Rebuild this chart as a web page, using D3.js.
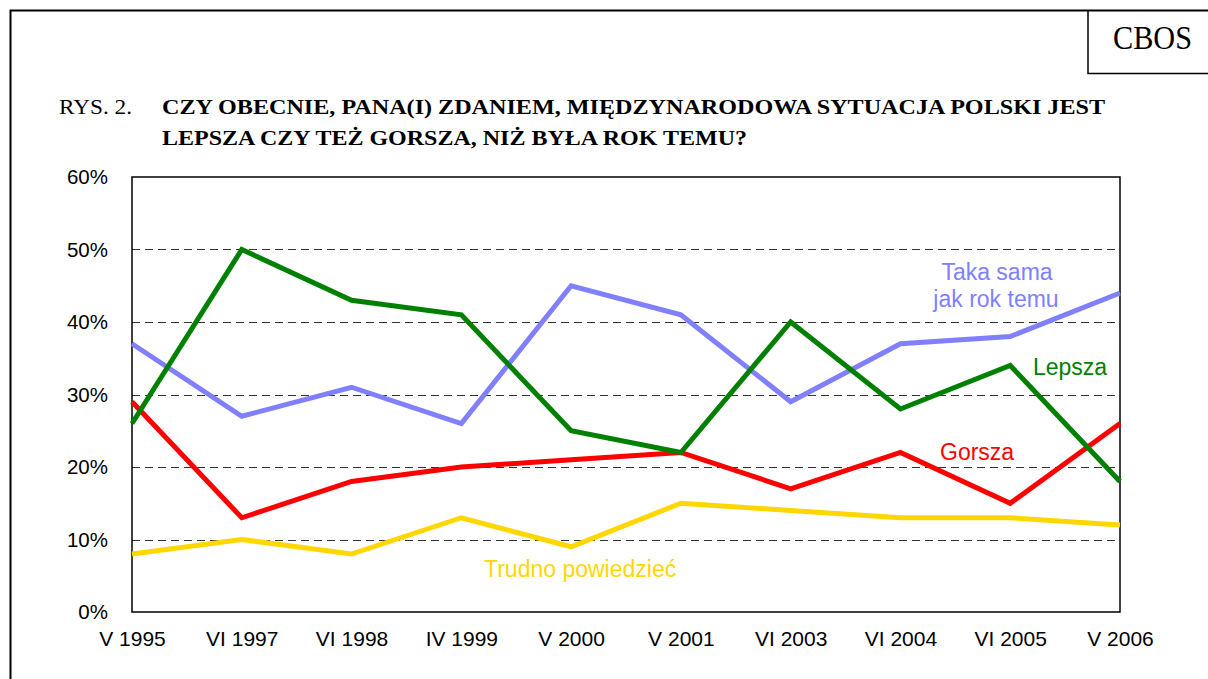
<!DOCTYPE html>
<html>
<head>
<meta charset="utf-8">
<script src="https://cdn.jsdelivr.net/npm/d3@7"></script>
<style>
  body { margin: 0; background: #fff; }
  svg { display: block; }
</style>
</head>
<body>
<script>
const categories = ["V 1995", "VI 1997", "VI 1998", "IV 1999", "V 2000", "V 2001", "VI 2003", "VI 2004", "VI 2005", "V 2006"]
const takaSama = [37, 27, 31, 26, 45, 41, 29, 37, 38, 44]
const lepsza   = [26, 50, 43, 41, 25, 22, 40, 28, 34, 18]
const gorsza   = [29, 13, 18, 20, 21, 22, 17, 22, 15, 26]
const trudno   = [8, 10, 8, 13, 9, 15, 14, 13, 13, 12]
const yTicks   = [0, 10, 20, 30, 40, 50, 60]

const width = 1208, height = 679
const plotLeft = 132, plotRight = 1120, plotTop = 177, plotBottom = 612

const svg = d3.select("body").append("svg")
    .attr("width", width)
    .attr("height", height)

// outer frame and CBOS box
svg.append("path")
    .attr("d", `M10.5,${height} V10.5 H${width}`)
    .attr("fill", "none")
    .attr("stroke", "black")
    .attr("stroke-width", 2)
svg.append("path")
    .attr("d", `M1088,10.5 V73.5 H${width}`)
    .attr("fill", "none")
    .attr("stroke", "black")
    .attr("stroke-width", 1.5)
svg.append("text")
    .attr("x", 1113)
    .attr("y", 49)
    .attr("textLength", 79)
    .attr("lengthAdjust", "spacingAndGlyphs")
    .style("font-family", "'Liberation Serif', 'Times New Roman', serif")
    .style("font-size", "33px")
    .text("CBOS")

// title
const title = svg.append("g")
    .style("font-family", "'Liberation Serif', 'Times New Roman', serif")
    .style("font-size", "21px")
title.append("text").attr("x", 59).attr("y", 114)
    .attr("textLength", 73).attr("lengthAdjust", "spacingAndGlyphs")
    .text("RYS. 2.")
title.append("text").attr("x", 162).attr("y", 114).style("font-weight", "bold")
    .attr("textLength", 943).attr("lengthAdjust", "spacingAndGlyphs")
    .text("CZY OBECNIE, PANA(I) ZDANIEM, MIĘDZYNARODOWA SYTUACJA POLSKI JEST")
title.append("text").attr("x", 162).attr("y", 145).style("font-weight", "bold")
    .attr("textLength", 585).attr("lengthAdjust", "spacingAndGlyphs")
    .text("LEPSZA CZY TEŻ GORSZA, NIŻ BYŁA ROK TEMU?")

const x = d3.scalePoint()
    .domain(categories)
    .range([plotLeft, plotRight])
    .padding(0)

const y = d3.scaleLinear()
    .domain([0, 60])
    .range([plotBottom, plotTop])

// gridlines
svg.append("g")
    .selectAll("line")
    .data(yTicks.filter(d => d > 0 && d < 60))
    .enter()
    .append("line")
        .attr("x1", plotLeft)
        .attr("x2", plotRight)
        .attr("y1", d => Math.round(y(d)) + 0.5)
        .attr("y2", d => Math.round(y(d)) + 0.5)
        .attr("stroke", "#333")
        .attr("stroke-width", 1)
        .attr("stroke-dasharray", "8,5")

// plot frame
svg.append("rect")
    .attr("x", plotLeft)
    .attr("y", plotTop)
    .attr("width", plotRight - plotLeft)
    .attr("height", plotBottom - plotTop)
    .attr("fill", "none")
    .attr("stroke", "black")
    .attr("stroke-width", 1.5)

// axes
const yAxis = svg.append("g")
    .attr("transform", `translate(${plotLeft},0)`)
    .call(d3.axisLeft(y).tickValues(yTicks).tickFormat(d => d + "%").tickSize(0).tickPadding(24))
yAxis.select(".domain").remove()
yAxis.selectAll("text")
    .style("font-family", "'Liberation Sans', Arial, sans-serif")
    .style("font-size", "20.5px")
    .attr("fill", "black")

const xAxis = svg.append("g")
    .attr("transform", `translate(0,${plotBottom})`)
    .call(d3.axisBottom(x).tickSize(0).tickPadding(19))
xAxis.select(".domain").remove()
xAxis.selectAll("text")
    .style("font-family", "'Liberation Sans', Arial, sans-serif")
    .style("font-size", "21px")
    .attr("fill", "black")

const series = [
    { values: trudno,   color: "#FFD700" },
    { values: gorsza,   color: "#FF0000" },
    { values: takaSama, color: "#8080FF" },
    { values: lepsza,   color: "#008000" }
]

const line = d3.line()
    .x((d, i) => x(categories[i]))
    .y(d => y(d))

svg.append("g")
    .selectAll("path")
    .data(series)
    .enter()
    .append("path")
        .attr("d", d => line(d.values))
        .attr("fill", "none")
        .attr("stroke", d => d.color)
        .attr("stroke-width", 5)
        .attr("stroke-linejoin", "miter")

// labels
const labels = svg.append("g")
    .style("font-family", "'Liberation Sans', Arial, sans-serif")
    .style("font-size", "23px")
labels.append("text").attr("x", 997).attr("y", 280).attr("text-anchor", "middle").attr("fill", "#8080FF").text("Taka sama")
labels.append("text").attr("x", 996).attr("y", 307).attr("text-anchor", "middle").attr("fill", "#8080FF").text("jak rok temu")
labels.append("text").attr("x", 1033).attr("y", 375).attr("fill", "#008000").text("Lepsza")
labels.append("text").attr("x", 940).attr("y", 460).attr("fill", "#FF0000").text("Gorsza")
labels.append("text").attr("x", 484).attr("y", 577).attr("fill", "#FFD700").text("Trudno powiedzieć")
</script>
</body>
</html>
